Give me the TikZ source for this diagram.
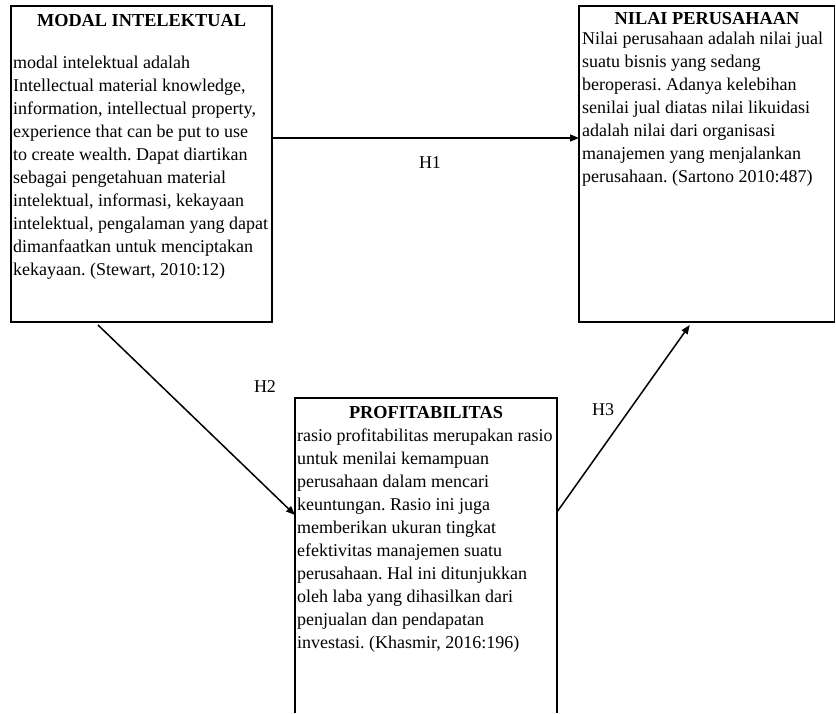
\documentclass[tikz,border=0pt]{standalone}
\usepackage{fontspec}
\setmainfont{Liberation Serif}
\usetikzlibrary{arrows.meta,calc}
\frenchspacing
\begin{document}
\begin{tikzpicture}[x=1pt,y=-1pt,
  boxframe/.style={draw,line width=1.8pt,inner sep=0pt,outer sep=0pt},
  titletext/.style={font=\fontsize{18.3}{23}\selectfont\bfseries,inner sep=0pt,anchor=base},
  bodytext/.style={font=\fontsize{18}{23}\selectfont,align=left,inner sep=0pt,anchor=north west},
  hlabel/.style={font=\fontsize{18}{23}\selectfont,inner sep=0pt},
  arr/.style={line width=1.5pt,-{Triangle[length=9pt,width=7pt]}}]
\useasboundingbox (0,0) rectangle (836,713);
% boxes
\node[boxframe,minimum width=261pt,minimum height=316pt] (m) at (141.5,164) {};
\node[boxframe,minimum width=255.5pt,minimum height=316pt] (n) at (706.75,164) {};
\node[inner sep=0pt,outer sep=0pt,minimum width=262pt,minimum height=315pt] (p) at (426,555.5) {};
\draw[line width=1.8pt] (p.south west) -- (p.north west) -- (p.north east) -- (p.south east);
% titles
\node[titletext] (mt) at (141.5,26) {MODAL INTELEKTUAL};
\node[titletext] (nt) at (707,24) {NILAI PERUSAHAAN};
\node[titletext] (pt) at (426,418) {PROFITABILITAS};
% bodies
\node[bodytext] (mb) at (13,51.9) {\strut modal intelektual adalah\\
Intellectual material knowledge,\\
information, intellectual property,\\
experience that can be put to use\\
to create wealth. Dapat diartikan\\
sebagai pengetahuan material\\
intelektual, informasi, kekayaan\\
intelektual, pengalaman yang dapat\\
dimanfaatkan untuk menciptakan\\
kekayaan. (Stewart, 2010:12)};
\node[bodytext] (nb) at (582,27.9) {\strut Nilai perusahaan adalah nilai jual\\
suatu bisnis yang sedang\\
beroperasi. Adanya kelebihan\\
senilai jual diatas nilai likuidasi\\
adalah nilai dari organisasi\\
manajemen yang menjalankan\\
perusahaan. (Sartono 2010:487)};
\node[bodytext] (pb) at (297,424.9) {\strut rasio profitabilitas merupakan rasio\\
untuk menilai kemampuan\\
perusahaan dalam mencari\\
keuntungan. Rasio ini juga\\
memberikan ukuran tingkat\\
efektivitas manajemen suatu\\
perusahaan. Hal ini ditunjukkan\\
oleh laba yang dihasilkan dari\\
penjualan dan pendapatan\\
investasi. (Khasmir, 2016:196)};
% connectors
\coordinate (h1y) at (0,138);
\coordinate (h3y) at (0,512);
\coordinate (h2y) at (0,515);
\draw[arr] (m.east |- h1y) -- (n.west |- h1y);
\draw[arr] ($(m.south)+(-43.5,3)$) -- (p.west |- h2y);
\draw[arr] (p.east |- h3y) -- ($(n.south)+(-17,3)$);
% labels
\node[hlabel] (l1) at (430,163) {H1};
\node[hlabel] (l2) at (265,387) {H2};
\node[hlabel] (l3) at (603,410) {H3};
\end{tikzpicture}
\end{document}
